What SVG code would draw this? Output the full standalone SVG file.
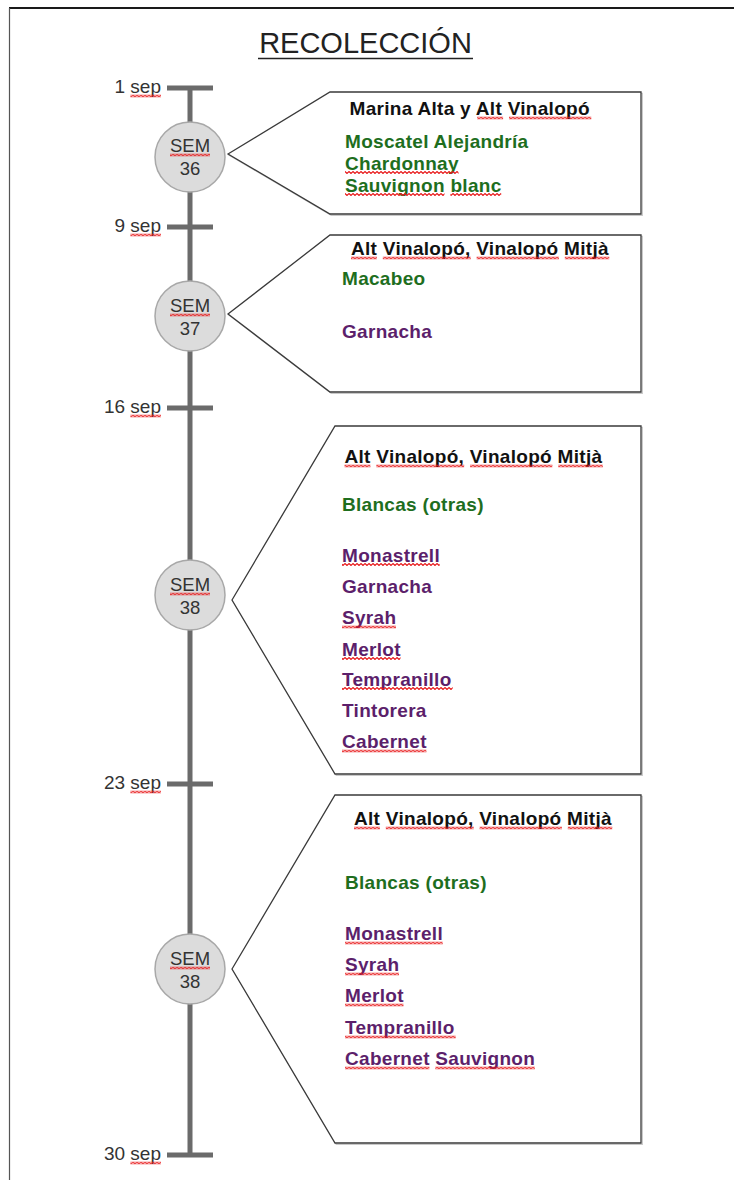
<svg xmlns="http://www.w3.org/2000/svg" width="734" height="1180" viewBox="0 0 734 1180">
<defs>
<pattern id="wave" patternUnits="userSpaceOnUse" width="4" height="3">
<path d="M-1,2.5 L1,0.5 L3,2.5 L5,0.5" fill="none" stroke="#e8191b" stroke-width="1.15"/>
</pattern>
</defs>
<style>
text{font-family:"Liberation Sans",Arial,sans-serif}
.title{font-size:29px;fill:#222;text-anchor:middle}
.date{font-size:19px;fill:#333;text-anchor:end}
.sem{font-size:18.5px;fill:#333;text-anchor:middle}
.hd{font-size:19px;font-weight:bold;fill:#111;letter-spacing:0.3px}
.it{font-size:19px;font-weight:bold;letter-spacing:0.3px}
.g{fill:#1e6e1e}
.p{fill:#5c1f6b}
.w{fill:url(#wave)}
.node circle{fill:#dcdcdc;stroke:#a8a8a8;stroke-width:1.5}
.call{fill:#fff;stroke:#3a3a3a;stroke-width:1.3}
.shadow{fill:none;stroke:#c8c8c8;stroke-width:1.3}
.axis{stroke:#6b6b6b;stroke-width:5;fill:none}
</style>
<rect width="734" height="1180" fill="#fff"/>
<g id="page">
<line x1="9" y1="8" x2="734" y2="8" stroke="#1a1a1a" stroke-width="2"/>
<line x1="9.5" y1="8" x2="9.5" y2="1180" stroke="#555" stroke-width="1.2"/>
</g>
<g id="title">
<text class="title" x="365.5" y="53">RECOLECCIÓN</text>
<line x1="258" y1="58.5" x2="473" y2="58.5" stroke="#222" stroke-width="1.5"/>
</g>
<g id="connectors">
<line class="axis" x1="190" y1="88" x2="190" y2="1155"/>
<line class="axis" x1="167" y1="88" x2="213" y2="88"/>
<line class="axis" x1="167" y1="227" x2="213" y2="227"/>
<line class="axis" x1="167" y1="408" x2="213" y2="408"/>
<line class="axis" x1="167" y1="784" x2="213" y2="784"/>
<line class="axis" x1="167" y1="1155" x2="213" y2="1155"/>
</g>
<g id="dates">
<text class="date" x="161" y="93">1 sep</text>
<rect class="w" x="130.4" width="30.6" height="3" transform="translate(0,94.5)"/>
<text class="date" x="161" y="232">9 sep</text>
<rect class="w" x="130.4" width="30.6" height="3" transform="translate(0,233.5)"/>
<text class="date" x="161" y="413">16 sep</text>
<rect class="w" x="130.4" width="30.6" height="3" transform="translate(0,414.5)"/>
<text class="date" x="161" y="789">23 sep</text>
<rect class="w" x="130.4" width="30.6" height="3" transform="translate(0,790.5)"/>
<text class="date" x="161" y="1160">30 sep</text>
<rect class="w" x="130.4" width="30.6" height="3" transform="translate(0,1161.5)"/>
</g>
<g id="sem36" class="node">
<circle cx="190" cy="157" r="35"/>
<text class="sem" x="190" y="152">SEM</text>
<rect class="w" x="170" width="40" height="3" transform="translate(0,153.5)"/>
<text class="sem" x="190" y="175">36</text>
</g>
<g id="sem37" class="node">
<circle cx="190" cy="316" r="35"/>
<text class="sem" x="190" y="312">SEM</text>
<rect class="w" x="170" width="40" height="3" transform="translate(0,313.5)"/>
<text class="sem" x="190" y="334.5">37</text>
</g>
<g id="sem38a" class="node">
<circle cx="190" cy="595" r="35"/>
<text class="sem" x="190" y="591">SEM</text>
<rect class="w" x="170" width="40" height="3" transform="translate(0,592.5)"/>
<text class="sem" x="190" y="613.5">38</text>
</g>
<g id="sem38b" class="node">
<circle cx="190" cy="969" r="35"/>
<text class="sem" x="190" y="965">SEM</text>
<rect class="w" x="170" width="40" height="3" transform="translate(0,966.5)"/>
<text class="sem" x="190" y="987.5">38</text>
</g>
<g id="callout1">
<polygon class="shadow" points="228,154 330,92 641,92 641,214 330,214" transform="translate(1.3,1.3)"/>
<polygon class="call" points="228,154 330,92 641,92 641,214 330,214"/>
<text class="hd" x="349.5" y="115">Marina Alta y Alt Vinalopó</text>
<rect class="w" x="477.2" width="25.9" height="3" transform="translate(0,116.5)"/>
<rect class="w" x="509" width="82.3" height="3" transform="translate(0,116.5)"/>
<text class="it g" x="345" y="147.5">Moscatel Alejandría</text>
<text class="it g" x="345" y="169.5">Chardonnay</text>
<rect class="w" x="345" width="113.5" height="3" transform="translate(0,171)"/>
<text class="it g" x="345" y="191.5">Sauvignon blanc</text>
<rect class="w" x="345" width="99.5" height="3" transform="translate(0,193)"/>
<rect class="w" x="450.4" width="50.8" height="3" transform="translate(0,193)"/>
</g>
<g id="callout2">
<polygon class="shadow" points="228,314 330,235 641,235 641,392 330,392" transform="translate(1.3,1.3)"/>
<polygon class="call" points="228,314 330,235 641,235 641,392 330,392"/>
<text class="hd" x="351" y="255">Alt Vinalopó, Vinalopó Mitjà</text>
<rect class="w" x="351" width="25.9" height="3" transform="translate(0,256.5)"/>
<rect class="w" x="382.8" width="87.9" height="3" transform="translate(0,256.5)"/>
<rect class="w" x="476.6" width="82.3" height="3" transform="translate(0,256.5)"/>
<rect class="w" x="564.8" width="44.5" height="3" transform="translate(0,256.5)"/>
<text class="it g" x="342" y="285">Macabeo</text>
<text class="it p" x="342" y="338">Garnacha</text>
</g>
<g id="callout3">
<polygon class="shadow" points="232,600 335,426 641,426 641,774 335,774" transform="translate(1.3,1.3)"/>
<polygon class="call" points="232,600 335,426 641,426 641,774 335,774"/>
<text class="hd" x="344.5" y="463">Alt Vinalopó, Vinalopó Mitjà</text>
<rect class="w" x="344.5" width="25.9" height="3" transform="translate(0,464.5)"/>
<rect class="w" x="376.3" width="87.9" height="3" transform="translate(0,464.5)"/>
<rect class="w" x="470.1" width="82.3" height="3" transform="translate(0,464.5)"/>
<rect class="w" x="558.3" width="44.5" height="3" transform="translate(0,464.5)"/>
<text class="it g" x="342" y="510.5">Blancas (otras)</text>
<text class="it p" x="342" y="561.5">Monastrell</text>
<rect class="w" x="342" width="97.7" height="3" transform="translate(0,563)"/>
<text class="it p" x="342" y="592.5">Garnacha</text>
<text class="it p" x="342" y="624">Syrah</text>
<rect class="w" x="342" width="54" height="3" transform="translate(0,625.5)"/>
<text class="it p" x="342" y="655.5">Merlot</text>
<rect class="w" x="342" width="58.5" height="3" transform="translate(0,657)"/>
<text class="it p" x="342" y="685.5">Tempranillo</text>
<rect class="w" x="342" width="110.7" height="3" transform="translate(0,687)"/>
<text class="it p" x="342" y="716.5">Tintorera</text>
<text class="it p" x="342" y="748">Cabernet</text>
<rect class="w" x="342" width="84.4" height="3" transform="translate(0,749.5)"/>
</g>
<g id="callout4">
<polygon class="shadow" points="232,969 335,795 641,795 641,1143 335,1143" transform="translate(1.3,1.3)"/>
<polygon class="call" points="232,969 335,795 641,795 641,1143 335,1143"/>
<text class="hd" x="354" y="825">Alt Vinalopó, Vinalopó Mitjà</text>
<rect class="w" x="354" width="25.9" height="3" transform="translate(0,826.5)"/>
<rect class="w" x="385.8" width="87.9" height="3" transform="translate(0,826.5)"/>
<rect class="w" x="479.6" width="82.3" height="3" transform="translate(0,826.5)"/>
<rect class="w" x="567.8" width="44.5" height="3" transform="translate(0,826.5)"/>
<text class="it g" x="345" y="889">Blancas (otras)</text>
<text class="it p" x="345" y="940">Monastrell</text>
<rect class="w" x="345" width="97.7" height="3" transform="translate(0,941.5)"/>
<text class="it p" x="345" y="971">Syrah</text>
<rect class="w" x="345" width="54" height="3" transform="translate(0,972.5)"/>
<text class="it p" x="345" y="1002">Merlot</text>
<rect class="w" x="345" width="58.5" height="3" transform="translate(0,1003.5)"/>
<text class="it p" x="345" y="1034">Tempranillo</text>
<rect class="w" x="345" width="110.7" height="3" transform="translate(0,1035.5)"/>
<text class="it p" x="345" y="1065">Cabernet Sauvignon</text>
<rect class="w" x="345" width="84.4" height="3" transform="translate(0,1066.5)"/>
<rect class="w" x="435.3" width="99.5" height="3" transform="translate(0,1066.5)"/>
</g>
</svg>
